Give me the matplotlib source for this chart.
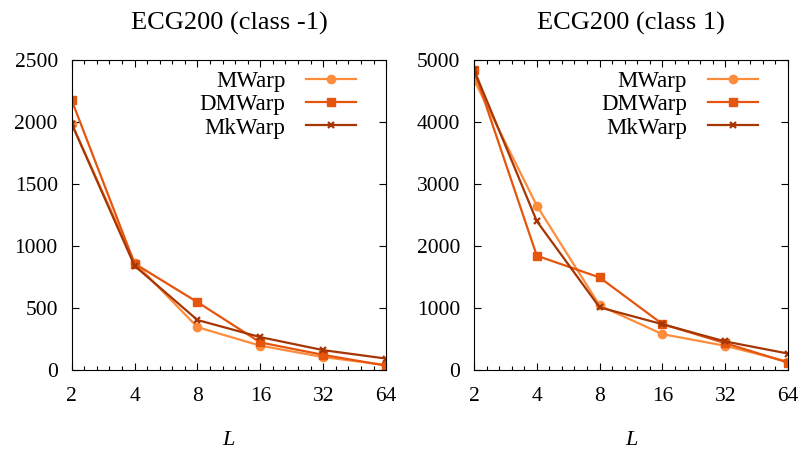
import numpy as np
import matplotlib.pyplot as plt
from matplotlib.ticker import FixedLocator, NullFormatter

plt.rcParams['font.family'] = ['Liberation Serif', 'DejaVu Serif']

L = [2, 4, 8, 16, 32, 64]
titles = ['ECG200 (class -1)', 'ECG200 (class 1)']

mwarp_neg = [1985, 866, 345, 196, 104, 40]
dmwarp_neg = [2175, 858, 547, 222, 122, 35]
mkwarp_neg = [1985, 840, 403, 265, 160, 92]

mwarp_pos = [4680, 2650, 1040, 578, 390, 135]
dmwarp_pos = [4840, 1843, 1492, 741, 433, 119]
mkwarp_pos = [4840, 2400, 1010, 738, 460, 265]

series = [
    (mwarp_neg, dmwarp_neg, mkwarp_neg),
    (mwarp_pos, dmwarp_pos, mkwarp_pos),
]
names = ['MWarp', 'DMWarp', 'MkWarp']
colors = ['#fd8d3c', '#e6550d', '#a63603']
markers = ['o', 's', 'x']
ylims = [(0, 2500), (0, 5000)]
yticks = [np.arange(0, 2501, 500), np.arange(0, 5001, 1000)]

fig = plt.figure(figsize=(8.03, 4.5), dpi=100)
boxes = [[0.0893, 0.1778, 0.3915, 0.689], [0.5903, 0.1778, 0.3910, 0.689]]

minor = [2 ** (k + i / 5) for k in range(1, 6) for i in range(1, 5)]

for j in range(2):
    ax = fig.add_axes(boxes[j])
    for s, name, c, m in zip(series[j], names, colors, markers):
        ax.plot(L, s, color=c, marker=m, lw=1.6, ms=6 if m != 'x' else 5,
                mew=1.6 if m == 'x' else 1, label=name)
    ax.set_xscale('log', base=2)
    ax.set_xlim(2, 64)
    ax.set_ylim(*ylims[j])
    ax.set_xticks(L)
    ax.set_xticklabels([str(v) for v in L])
    ax.xaxis.set_minor_locator(FixedLocator(minor))
    ax.xaxis.set_minor_formatter(NullFormatter())
    ax.set_yticks(yticks[j])
    ax.tick_params(which='both', direction='in', top=True, right=True,
                   labelsize=15.5)
    ax.tick_params(axis='x', pad=12)
    ax.tick_params(axis='y', pad=10)
    ax.tick_params(which='major', length=5, width=0.8)
    ax.tick_params(which='minor', length=3, width=0.8)
    ax.set_title(titles[j], fontsize=19, pad=22)
    ax.set_xlabel('L', fontsize=16, style='italic', labelpad=18)
    ax.legend(loc='upper right', frameon=False, markerfirst=False,
              fontsize=16.5, handlelength=2.2, labelspacing=0.1,
              borderaxespad=0, borderpad=0, handletextpad=0.9,
              bbox_to_anchor=(0.905, 0.965))

fig.savefig('out.png', dpi=100)
